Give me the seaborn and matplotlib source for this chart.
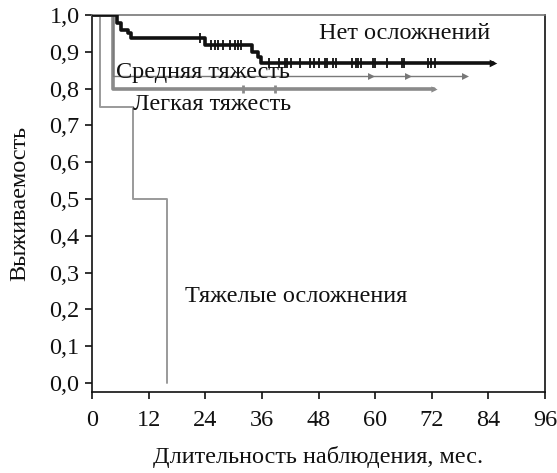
import numpy as np
import pandas as pd
import matplotlib
matplotlib.use("Agg")
import matplotlib.pyplot as plt
import seaborn as sns

# ---- data (months, survival) ----
none_t = [0, 5.2, 6.1, 7.6, 8.2, 23.9, 34.0, 35.1, 35.8, 84.9]
none_s = [1.0, 0.977, 0.960, 0.950, 0.938, 0.918, 0.900, 0.887, 0.869, 0.869]
none_cens = [22.9, 25.3, 26.0, 26.7, 27.8, 29.2, 30.2, 30.9, 31.6, 37.5, 39.7,
             40.8, 41.4, 42.2, 44.0, 46.1, 47.1, 48.2, 49.3, 49.9, 51.0, 51.7,
             55.2, 55.9, 56.3, 57.1, 59.5, 59.9, 62.5, 65.6, 66.2, 71.1, 71.9, 72.7]

mid_t = [0, 4.4, 79.0]
mid_s = [1.0, 0.833, 0.833]
mid_cens = [59.2, 66.9, 79.0]

light_t = [0, 4.5, 72.5]
light_s = [1.0, 0.80, 0.80]
light_cens = [32.0, 38.7]

severe_t = [0, 1.7, 8.7, 15.9]
severe_s = [1.0, 0.75, 0.5, 0.0]

x_ticks = [0, 12, 24, 36, 48, 60, 72, 84, 96]
y_ticks = [0.0, 0.1, 0.2, 0.3, 0.4, 0.5, 0.6, 0.7, 0.8, 0.9, 1.0]
y_ticklabels = ["0,0", "0,1", "0,2", "0,3", "0,4", "0,5", "0,6", "0,7", "0,8", "0,9", "1,0"]

labels = {
    "none": "Нет осложнений",
    "mid": "Средняя тяжесть",
    "light": "Легкая тяжесть",
    "severe": "Тяжелые осложнения",
}


def step_val(t_list, s_list, t):
    idx = np.searchsorted(np.array(t_list), t, side="right") - 1
    return s_list[idx]


sns.set_theme(style="white")
plt.rcParams["font.family"] = ["Liberation Serif", "DejaVu Serif"]
plt.rcParams["axes.unicode_minus"] = False

fig = plt.figure(figsize=(5.57, 4.73), dpi=100)
ax = fig.add_axes([0.1652, 0.1712, 0.8133, 0.7971])

def curve(t, s, color, lw, z):
    df = pd.DataFrame({"t": t, "s": s})
    sns.lineplot(data=df, x="t", y="s", ax=ax, estimator=None, sort=False,
                 drawstyle="steps-post", color=color, linewidth=lw, zorder=z)

curve(severe_t, severe_s, "#9a9a9a", 1.4, 2)
curve(light_t, light_s, "#8a8a8a", 2.6, 3)
curve(mid_t, mid_s, "#7a7a7a", 1.0, 4)
curve(none_t, none_s, "#111111", 2.6, 5)

# censor marks
dfc = pd.DataFrame({"t": none_cens, "s": [step_val(none_t, none_s, c) for c in none_cens]})
sns.scatterplot(data=dfc, x="t", y="s", ax=ax, marker="|", s=45, color="#111111",
                linewidth=1.3, zorder=6)
dfe = pd.DataFrame({"t": [none_t[-1]], "s": [none_s[-1]]})
sns.scatterplot(data=dfe, x="t", y="s", ax=ax, marker=">", s=30, color="#111111",
                linewidth=0, zorder=6)

dfm = pd.DataFrame({"t": mid_cens, "s": [step_val(mid_t, mid_s, c) for c in mid_cens]})
sns.scatterplot(data=dfm, x="t", y="s", ax=ax, marker=">", s=25, color="#777777",
                linewidth=0, zorder=6)

dfl = pd.DataFrame({"t": light_cens, "s": [step_val(light_t, light_s, c) for c in light_cens]})
sns.scatterplot(data=dfl, x="t", y="s", ax=ax, marker="|", s=40, color="#8a8a8a",
                linewidth=2, zorder=6)
dfle = pd.DataFrame({"t": [light_t[-1]], "s": [light_s[-1]]})
sns.scatterplot(data=dfle, x="t", y="s", ax=ax, marker=">", s=20, color="#8a8a8a",
                linewidth=0, zorder=6)

# labels
fs = 17.5
ax.text(66.2, 0.951, labels["none"], ha="center", va="center", fontsize=fs, color="#111111", zorder=7)
ax.text(5.0, 0.845, labels["mid"], ha="left", va="center", fontsize=fs, color="#111111", zorder=7)
ax.text(8.6, 0.758, labels["light"], ha="left", va="center", fontsize=fs, color="#111111", zorder=7)
ax.text(19.6, 0.236, labels["severe"], ha="left", va="center", fontsize=fs, color="#111111", zorder=7)

ax.set_xlim(0, 96)
ax.set_ylim(-0.0245, 1.0)
ax.set_xticks(x_ticks)
ax.set_xticklabels([str(v) for v in x_ticks])
ax.set_yticks(y_ticks)
ax.set_yticklabels(y_ticklabels)
ax.tick_params(axis="both", which="major", direction="out", length=5, width=1.2,
               color="#111111", labelsize=17.5, labelcolor="#111111", pad=4,
               bottom=True, left=True)
ax.tick_params(axis="x", pad=8)
ax.set_xlabel("Длительность наблюдения, мес.", fontsize=17.5, color="#111111", labelpad=11)
ax.set_ylabel("Выживаемость", fontsize=17.5, color="#111111", labelpad=14)

for side in ["left", "bottom", "right"]:
    ax.spines[side].set_color("#111111")
    ax.spines[side].set_linewidth(1.2)
ax.spines["top"].set_color("#777777")
ax.spines["top"].set_linewidth(1.2)

fig.savefig("out.png", dpi=100, facecolor="white")
